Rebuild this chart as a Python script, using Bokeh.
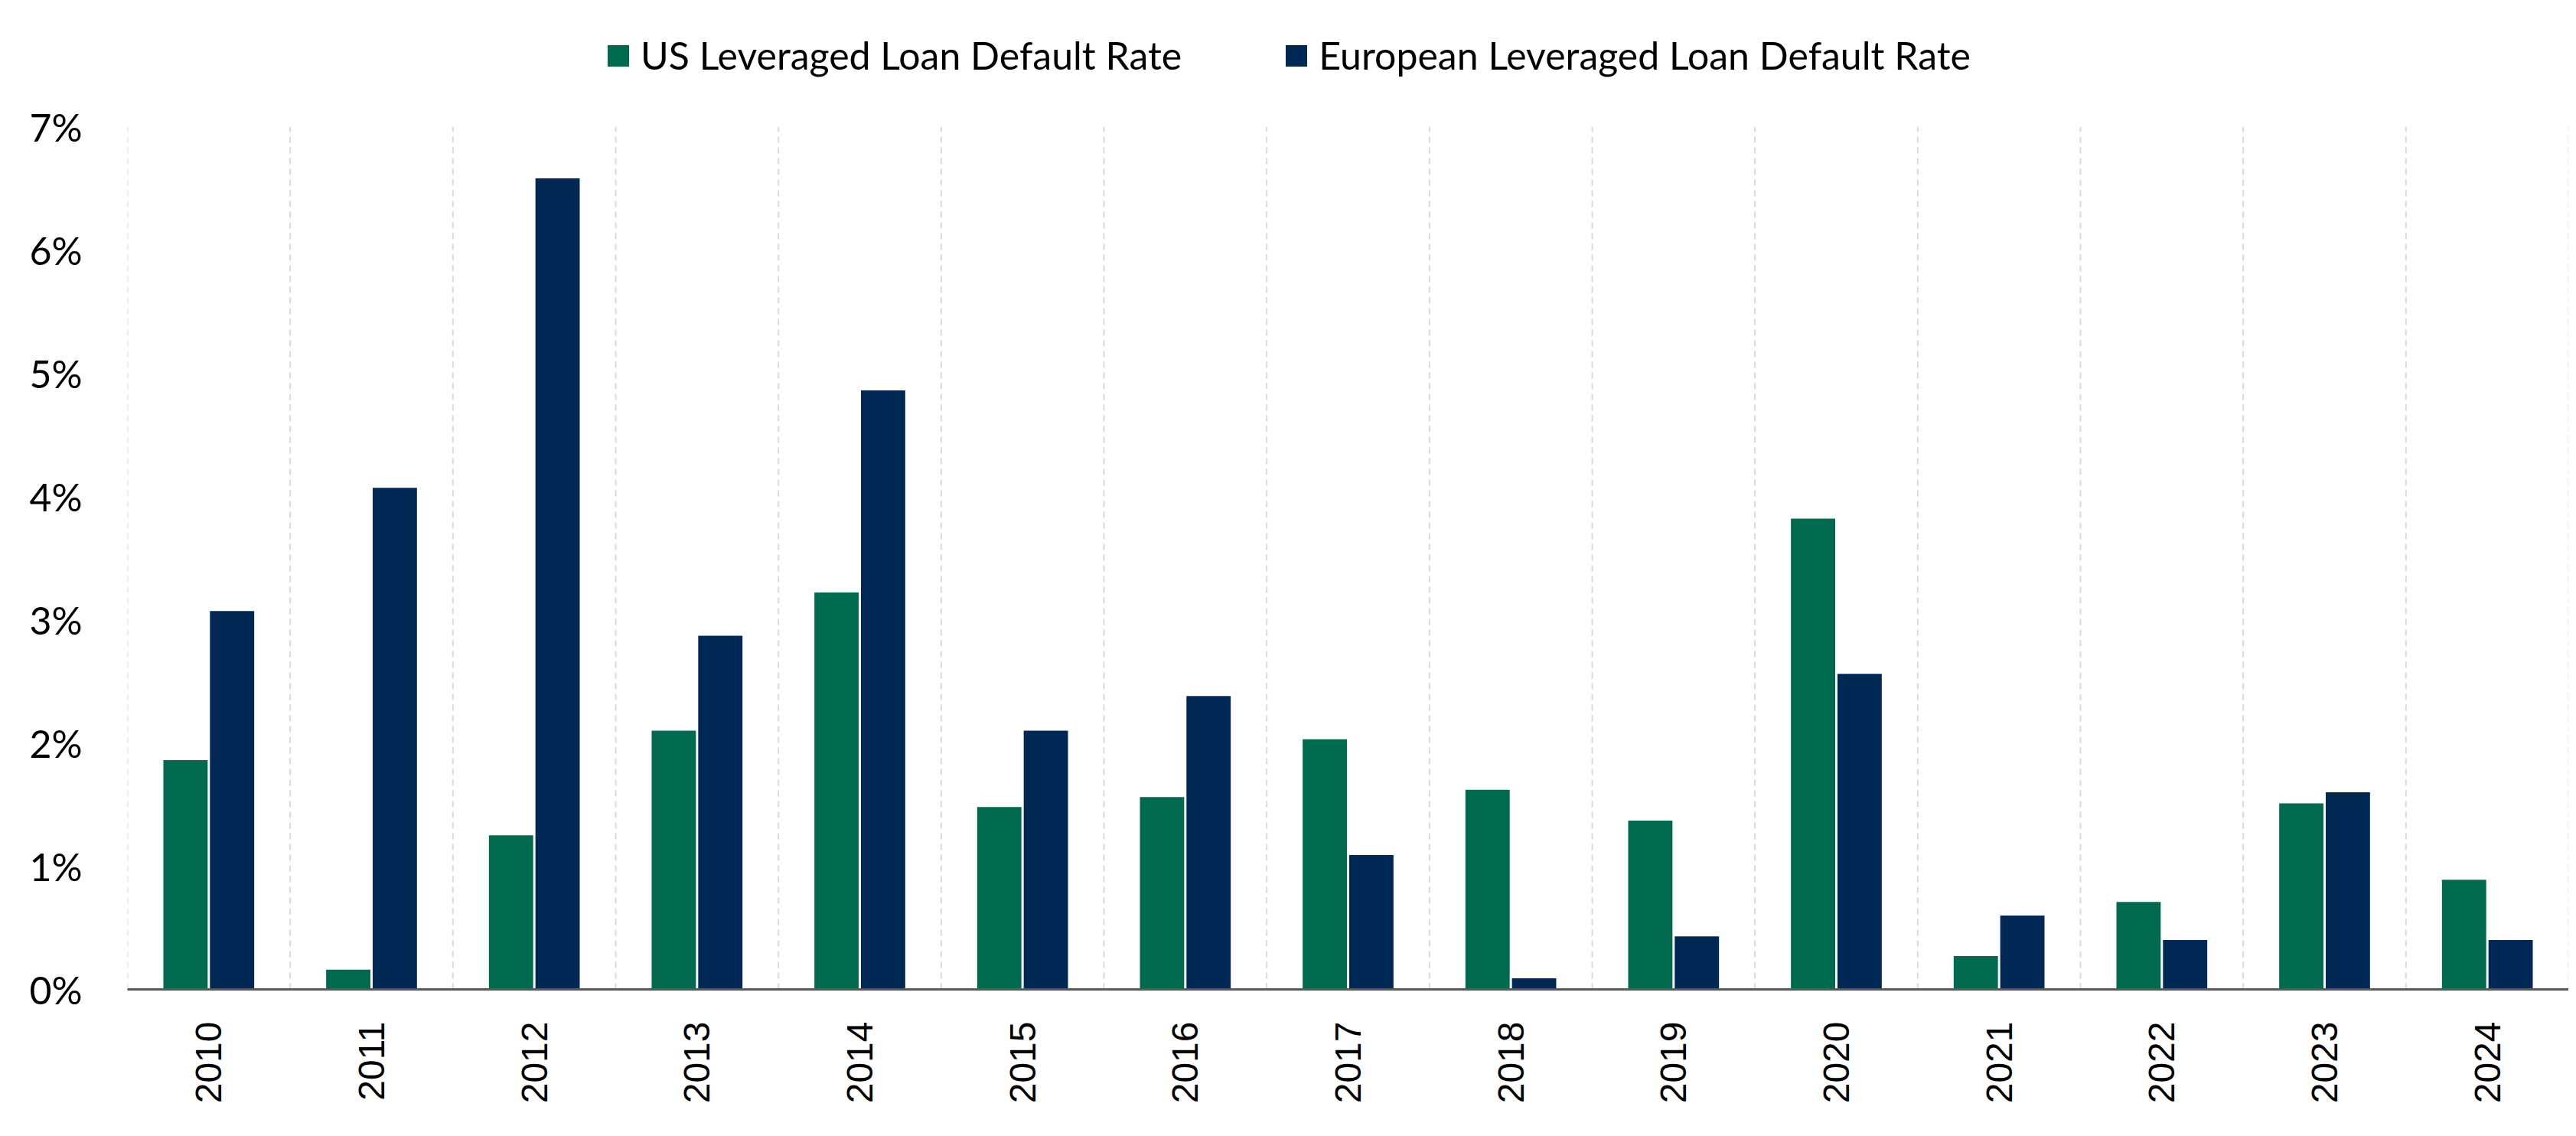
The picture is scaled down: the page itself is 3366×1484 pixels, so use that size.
import math
from bokeh.plotting import figure
from bokeh.layouts import column
from bokeh.models import ColumnDataSource, FactorRange, Legend, LegendItem, PrintfTickFormatter, FixedTicker, Range1d
from bokeh.transform import dodge
from bokeh.embed import file_html
from bokeh.resources import INLINE

years = ["2010", "2011", "2012", "2013", "2014", "2015", "2016", "2017",
         "2018", "2019", "2020", "2021", "2022", "2023", "2024"]
us_rate = [1.86, 0.16, 1.25, 2.10, 3.22, 1.48, 1.56, 2.03, 1.62, 1.37, 3.82, 0.27, 0.71, 1.51, 0.89]
eu_rate = [3.07, 4.07, 6.58, 2.87, 4.86, 2.10, 2.38, 1.09, 0.09, 0.43, 2.56, 0.60, 0.40, 1.60, 0.40]
y_ticks = [0, 1, 2, 3, 4, 5, 6, 7]
series_names = ["US Leveraged Loan Default Rate", "European Leveraged Loan Default Rate"]

GREEN = "#006A4F"
NAVY = "#002855"
W = 3356
LEG_H = 130

src = ColumnDataSource(dict(year=years, us=us_rate, eu=eu_rate,
                            top=[7] * len(years), bottom=[0] * len(years)))
edge_src = ColumnDataSource(dict(year=[years[-1]], top=[7], bottom=[0]))

# ---- main chart ----
p = figure(x_range=FactorRange(*years), y_range=Range1d(0, 7),
           width=W, height=1468 - LEG_H, output_backend="svg", toolbar_location=None,
           min_border_left=166, min_border_right=0, min_border_top=35, min_border_bottom=176)
p.outline_line_color = None
p.xgrid.grid_line_color = None
p.ygrid.grid_line_color = None
p.x_range.range_padding = 0

p.segment(x0=dodge("year", -0.5, range=p.x_range), x1=dodge("year", -0.5, range=p.x_range),
          y0="bottom", y1="top", source=src, line_color="#D9D9D9", line_width=2, line_dash="8 6")
p.segment(x0=dodge("year", 0.5, range=p.x_range), x1=dodge("year", 0.5, range=p.x_range),
          y0="bottom", y1="top", source=edge_src, line_color="#D9D9D9", line_width=2, line_dash="8 6")

p.vbar(x=dodge("year", -0.143, range=p.x_range), top="us", width=0.272, source=src,
       fill_color=GREEN, line_color=None)
p.vbar(x=dodge("year", 0.143, range=p.x_range), top="eu", width=0.272, source=src,
       fill_color=NAVY, line_color=None)

p.yaxis.ticker = FixedTicker(ticks=y_ticks)
p.yaxis.formatter = PrintfTickFormatter(format="%d%%")
p.yaxis.axis_line_color = None
p.yaxis.major_tick_line_color = None
p.yaxis.minor_tick_line_color = None
p.yaxis.major_label_text_font = "Lato"
p.yaxis.major_label_text_font_size = "50px"
p.yaxis.major_label_text_color = "#000000"
p.yaxis.major_label_standoff = 53

p.xaxis.axis_line_color = "#595959"
p.xaxis.axis_line_width = 3
p.xaxis.major_tick_line_color = None
p.xaxis.minor_tick_line_color = None
p.xaxis.major_label_orientation = math.pi / 2
p.xaxis.major_label_text_font = "Liberation Sans"
p.xaxis.major_label_text_font_size = "48px"
p.xaxis.major_label_text_color = "#000000"
p.xaxis.major_label_standoff = 36

# ---- legend strip ----
pl = figure(width=W, height=LEG_H, x_range=Range1d(0, 100), y_range=Range1d(0, 100),
            output_backend="svg", toolbar_location=None,
            min_border_left=0, min_border_right=0, min_border_top=0, min_border_bottom=0)
pl.axis.visible = False
pl.grid.visible = False
pl.outline_line_color = None
# off-range placeholder data so the legend has a glyph to show
leg_src = ColumnDataSource(dict(x=[-1000], top=[-1000]))
r_us = pl.vbar(x="x", top="top", width=1, source=leg_src, fill_color=GREEN, line_color=None)
r_eu = pl.vbar(x="x", top="top", width=1, source=leg_src, fill_color=NAVY, line_color=None)

legend = Legend(items=[LegendItem(label=series_names[0], renderers=[r_us]),
                       LegendItem(label=series_names[1], renderers=[r_eu])],
                orientation="horizontal", location=(624, 28))
legend.label_text_font = "Lato"
legend.label_text_font_size = "50px"
legend.label_text_color = "#000000"
legend.glyph_width = 35
legend.glyph_height = 35
legend.label_standoff = 12
legend.spacing = 132
legend.padding = 0
legend.margin = 0
legend.border_line_color = None
legend.background_fill_alpha = 0
pl.add_layout(legend, "center")

layout = column(pl, p, spacing=0)
open("out.html", "w").write(file_html(layout, INLINE))
